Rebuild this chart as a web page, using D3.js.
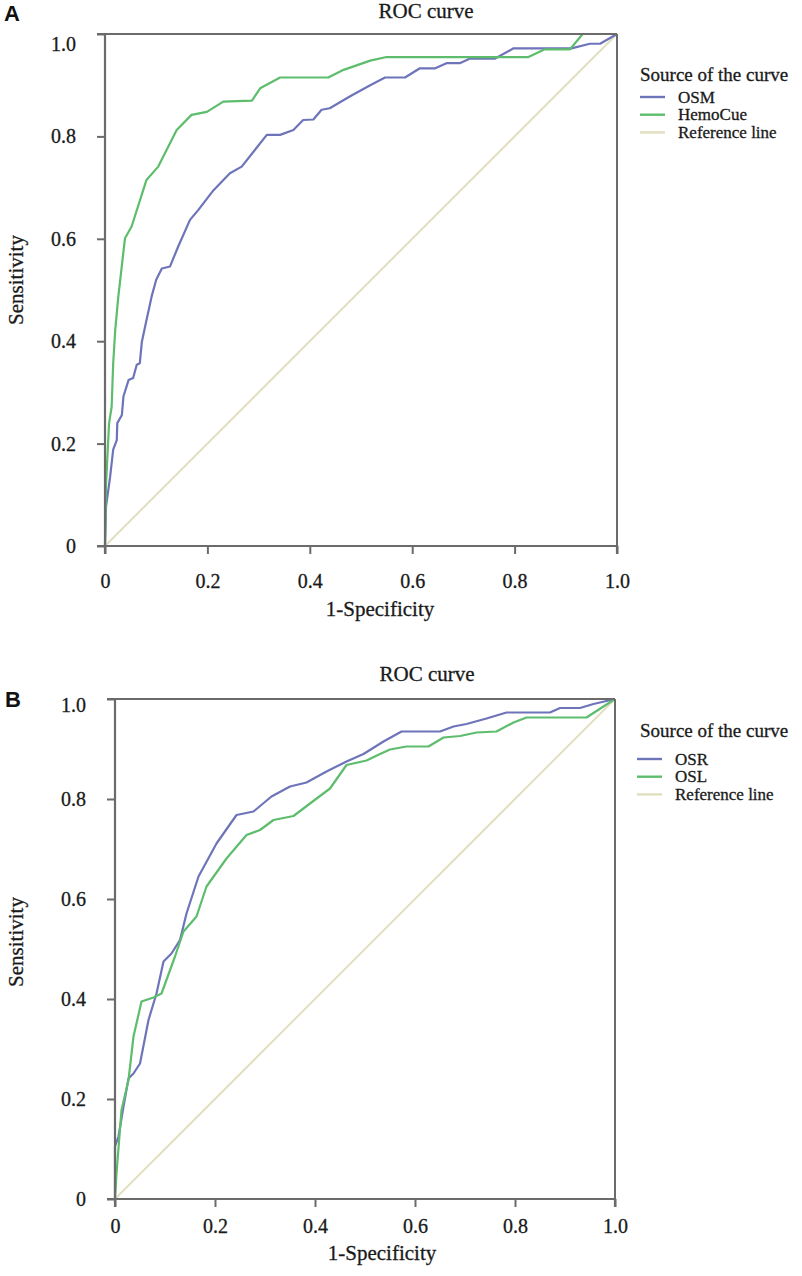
<!DOCTYPE html>
<html>
<head>
<meta charset="utf-8">
<script src="https://cdn.jsdelivr.net/npm/d3@7/dist/d3.min.js"></script>
<style>
  html, body { margin: 0; padding: 0; background: #fff; }
  svg { display: block; }
  .serif { stroke: #1a1a1a; stroke-width: 0.3px; }
</style>
</head>
<body>
<svg id="chart" width="802" height="1276"></svg>
<script>
// ---------- data ----------
const tickValues = [0, 0.2, 0.4, 0.6, 0.8, 1.0];
const tickLabels = ["0", "0.2", "0.4", "0.6", "0.8", "1.0"];

// Panel A
const seriesNamesA = ["OSM", "HemoCue", "Reference line"];
const osmFpr = [0, 0.002, 0.010, 0.016, 0.023, 0.024, 0.033, 0.036, 0.046, 0.055, 0.062, 0.068, 0.072, 0.081, 0.091, 0.100, 0.111, 0.127, 0.143, 0.166, 0.182, 0.212, 0.244, 0.267, 0.290, 0.316, 0.342, 0.368, 0.387, 0.407, 0.423, 0.439, 0.478, 0.518, 0.547, 0.586, 0.615, 0.645, 0.667, 0.693, 0.713, 0.762, 0.798, 0.911, 0.947, 0.967, 1];
const osmTpr = [0, 0.077, 0.135, 0.188, 0.207, 0.240, 0.256, 0.292, 0.324, 0.328, 0.354, 0.357, 0.399, 0.441, 0.487, 0.520, 0.542, 0.546, 0.585, 0.637, 0.656, 0.695, 0.728, 0.741, 0.770, 0.803, 0.803, 0.8125, 0.832, 0.833, 0.852, 0.855, 0.878, 0.900, 0.915, 0.915, 0.933, 0.933, 0.943, 0.943, 0.952, 0.952, 0.972, 0.972, 0.981, 0.981, 1];
const hemoFpr = [0, 0.002, 0.005, 0.008, 0.013, 0.016, 0.020, 0.026, 0.039, 0.052, 0.081, 0.104, 0.140, 0.169, 0.199, 0.231, 0.287, 0.303, 0.342, 0.436, 0.466, 0.518, 0.550, 0.827, 0.859, 0.908, 0.918, 0.933, 1];
const hemoTpr = [0, 0.120, 0.181, 0.240, 0.272, 0.357, 0.422, 0.487, 0.601, 0.624, 0.715, 0.741, 0.8125, 0.842, 0.848, 0.868, 0.870, 0.894, 0.915, 0.915, 0.930, 0.948, 0.955, 0.955, 0.970, 0.970, 0.982, 1.0, 1];

// Panel B
const seriesNamesB = ["OSR", "OSL", "Reference line"];
const osrFpr = [0, 0, 0.007, 0.017, 0.027, 0.037, 0.050, 0.067, 0.083, 0.097, 0.113, 0.130, 0.143, 0.167, 0.203, 0.243, 0.277, 0.313, 0.350, 0.383, 0.423, 0.463, 0.497, 0.537, 0.573, 0.650, 0.677, 0.703, 0.743, 0.783, 0.870, 0.890, 0.930, 0.957, 1];
const osrTpr = [0, 0.105, 0.125, 0.185, 0.241, 0.251, 0.271, 0.358, 0.411, 0.475, 0.491, 0.518, 0.571, 0.645, 0.711, 0.768, 0.775, 0.805, 0.825, 0.833, 0.855, 0.875, 0.890, 0.915, 0.935, 0.935, 0.945, 0.950, 0.961, 0.973, 0.973, 0.982, 0.982, 0.990, 1];
const oslFpr = [0, 0.003, 0.013, 0.027, 0.037, 0.053, 0.077, 0.093, 0.120, 0.137, 0.163, 0.183, 0.223, 0.263, 0.290, 0.317, 0.357, 0.390, 0.430, 0.463, 0.503, 0.530, 0.550, 0.583, 0.627, 0.657, 0.690, 0.723, 0.763, 0.797, 0.823, 0.943, 1];
const oslTpr = [0, 0.051, 0.178, 0.238, 0.325, 0.395, 0.403, 0.411, 0.485, 0.535, 0.565, 0.625, 0.681, 0.728, 0.738, 0.758, 0.766, 0.791, 0.821, 0.868, 0.877, 0.890, 0.899, 0.905, 0.905, 0.923, 0.926, 0.933, 0.935, 0.953, 0.963, 0.963, 1];

const refFpr = [0, 1];
const refTpr = [0, 1];

// ---------- styles ----------
const BLUE = "#6e74b9";
const GREEN = "#5dbd6c";
const REF = "#e2dfc0";
const AXIS = "#6b6b6b";
const TEXT = "#1a1a1a";
const SERIF = "'Liberation Serif', 'Times New Roman', serif";

const svg = d3.select("#chart");
svg.append("rect").attr("width", 802).attr("height", 1276).attr("fill", "#fff");

function zip(xs, ys) { return xs.map((x, i) => [x, ys[i]]); }

function drawPanel(cfg) {
  const x = d3.scaleLinear().domain([0, 1]).range([cfg.left, cfg.right]);
  const y = d3.scaleLinear().domain([0, 1]).range([cfg.bottom, cfg.top]);
  const g = svg.append("g");

  // panel letter
  svg.append("text").attr("x", cfg.letterX).attr("y", cfg.letterY)
    .attr("font-family", "'Liberation Sans', Arial, sans-serif")
    .attr("font-weight", "bold").attr("font-size", 22).attr("fill", "#111")
    .text(cfg.letter);

  // title
  g.append("text").attr("class", "serif").attr("x", cfg.titleX).attr("y", cfg.titleY)
    .attr("text-anchor", "middle").attr("font-family", SERIF)
    .attr("font-size", 21).attr("fill", TEXT).text("ROC curve");

  // lines
  const line = d3.line().x(d => x(d[0])).y(d => y(d[1]));
  g.append("path").datum(zip(refFpr, refTpr)).attr("d", line)
    .attr("fill", "none").attr("stroke", REF).attr("stroke-width", 2);
  cfg.series.forEach(s => {
    g.append("path").datum(zip(s.fpr, s.tpr)).attr("d", line)
      .attr("fill", "none").attr("stroke", s.color).attr("stroke-width", 2.2)
      .attr("stroke-linejoin", "round");
  });

  // box (top & right)
  g.append("line").attr("x1", x(0)).attr("x2", x(1)).attr("y1", y(1)).attr("y2", y(1))
    .attr("stroke", AXIS).attr("stroke-width", 2);
  g.append("line").attr("x1", x(1)).attr("x2", x(1)).attr("y1", y(0)).attr("y2", y(1))
    .attr("stroke", AXIS).attr("stroke-width", 2);

  // axes
  const fmt = (d, i) => tickLabels[i];
  const yAxis = g.append("g").attr("transform", `translate(${cfg.left},0)`)
    .call(d3.axisLeft(y).tickValues(tickValues).tickFormat(fmt).tickSize(8).tickPadding(cfg.yPad));
  const xAxis = g.append("g").attr("transform", `translate(0,${cfg.bottom})`)
    .call(d3.axisBottom(x).tickValues(tickValues).tickFormat(fmt).tickSize(8).tickPadding(cfg.xPad));
  [yAxis, xAxis].forEach(a => {
    a.select(".domain").attr("stroke", AXIS).attr("stroke-width", 2.2);
    a.selectAll(".tick line").attr("stroke", AXIS).attr("stroke-width", 2);
    a.selectAll(".tick text").attr("class", "serif").attr("font-size", 20).attr("fill", TEXT)
      .attr("font-family", SERIF);
  });
  yAxis.select(".domain").attr("d", `M-8,${cfg.top}H0V${cfg.bottom}H-8`);
  xAxis.select(".domain").attr("d", `M${cfg.left},8V0H${cfg.right}V8`);
  // the top label sits slightly lower in the reference
  yAxis.selectAll(".tick").filter(d => d === 1).select("text")
    .attr("dy", (0.32 * 20 + cfg.topShift) + "px");

  // axis titles
  g.append("text").attr("class", "serif").attr("x", cfg.xTitleX).attr("y", cfg.xTitleY)
    .attr("text-anchor", "middle").attr("font-family", SERIF)
    .attr("font-size", 21).attr("fill", TEXT).text("1-Specificity");
  g.append("text").attr("class", "serif")
    .attr("transform", `translate(${cfg.yTitleX},${cfg.yTitleY}) rotate(-90)`)
    .attr("text-anchor", "middle").attr("font-family", SERIF)
    .attr("font-size", 21).attr("fill", TEXT).text("Sensitivity");

  // legend
  const lg = g.append("g").attr("transform", `translate(${cfg.legX},${cfg.legY})`);
  lg.append("text").attr("class", "serif").attr("x", 0).attr("y", 0).attr("font-family", SERIF)
    .attr("font-size", 19).attr("fill", TEXT).text("Source of the curve");
  const items = cfg.series.map(s => ({ name: s.name, color: s.color }))
    .concat([{ name: cfg.refName, color: REF }]);
  items.forEach((it, i) => {
    const yy = cfg.legItem0 + i * 17.7;
    lg.append("line").attr("x1", cfg.legLineX).attr("x2", cfg.legLineX + 25).attr("y1", yy).attr("y2", yy)
      .attr("stroke", it.color).attr("stroke-width", 2.4);
    lg.append("text").attr("class", "serif").attr("x", cfg.legTextX).attr("y", yy + 5.5).attr("font-family", SERIF)
      .attr("font-size", 17).attr("fill", TEXT).text(it.name);
  });
}

drawPanel({
  letter: "A", letterX: 4, letterY: 21,
  left: 105, right: 617, top: 34, bottom: 546,
  titleX: 426, titleY: 18,
  xTitleX: 380, xTitleY: 616, yTitleX: 23, yTitleY: 280,
  yPad: 21, xPad: 20, topShift: 10,
  legX: 640, legY: 81, legItem0: 16, legLineX: 0, legTextX: 38,
  refName: seriesNamesA[2],
  series: [
    { name: seriesNamesA[0], color: BLUE, fpr: osmFpr, tpr: osmTpr },
    { name: seriesNamesA[1], color: GREEN, fpr: hemoFpr, tpr: hemoTpr }
  ]
});

drawPanel({
  letter: "B", letterX: 5, letterY: 707,
  left: 115, right: 615, top: 699, bottom: 1199,
  titleX: 427, titleY: 681,
  xTitleX: 382, xTitleY: 1260, yTitleX: 23, yTitleY: 942,
  yPad: 21, xPad: 12, topShift: 6,
  legX: 640, legY: 737, legItem0: 22, legLineX: -3, legTextX: 35,
  refName: seriesNamesB[2],
  series: [
    { name: seriesNamesB[0], color: BLUE, fpr: osrFpr, tpr: osrTpr },
    { name: seriesNamesB[1], color: GREEN, fpr: oslFpr, tpr: oslTpr }
  ]
});
</script>
</body>
</html>
